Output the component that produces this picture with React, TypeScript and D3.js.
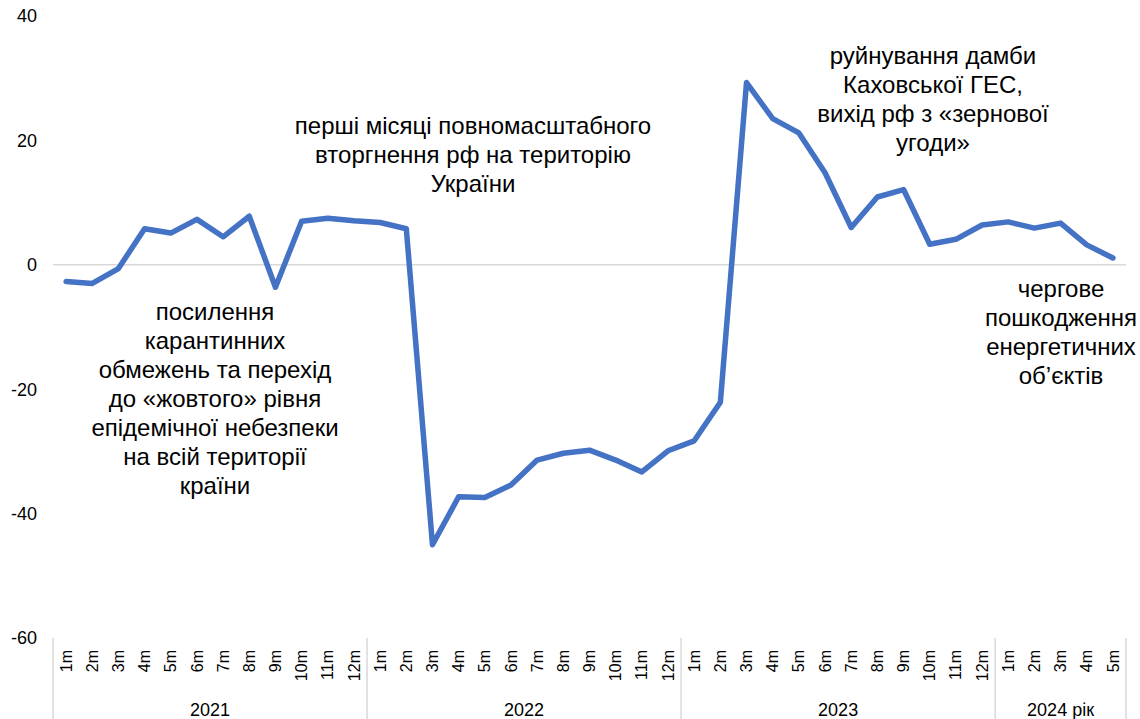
import React from "react";
import * as d3 from "d3";

const years = ["2021", "2022", "2023", "2024 рік"];
const monthsPerYear = [12, 12, 12, 5];
const values2021 = [-2.7, -3.0, -0.6, 5.8, 5.1, 7.3, 4.5, 7.8, -3.6, 7.0, 7.5, 7.1];
const values2022 = [6.8, 5.8, -45.0, -37.3, -37.4, -35.4, -31.4, -30.3, -29.8, -31.4, -33.3, -29.9];
const values2023 = [-28.3, -22.1, 29.3, 23.5, 21.2, 14.8, 6.0, 10.9, 12.1, 3.3, 4.1, 6.4];
const values2024 = [6.9, 5.9, 6.7, 3.2, 1.1];
const yTicks = [-60, -40, -20, 0, 20, 40];

const annotations = [
  { lines: ["посилення", "карантинних", "обмежень та перехід", "до «жовтого» рівня", "епідемічної небезпеки", "на всій території", "країни"], cx: 215, y0: 320 },
  { lines: ["перші місяці повномасштабного", "вторгнення рф на територію", "України"], cx: 473, y0: 134 },
  { lines: ["руйнування дамби", "Каховської ГЕС,", "вихід рф з «зернової", "угоди»"], cx: 933, y0: 64 },
  { lines: ["чергове", "пошкодження", "енергетичних", "об’єктів"], cx: 1061, y0: 297 },
];

const allValues = [...values2021, ...values2022, ...values2023, ...values2024];
const monthLabels = monthsPerYear.flatMap((n) => d3.range(1, n + 1).map((m) => `${m}m`));

const W = 1140;
const H = 719;
const FONT = "'Liberation Sans', Arial, sans-serif";

export default function App() {
  const x = d3.scaleBand<number>().domain(d3.range(allValues.length)).range([53, 1126]);
  const bw = x.bandwidth();
  const cx = (i: number) => (x(i) as number) + bw / 2;
  const y = d3.scaleLinear().domain([-60, 40]).range([638, 16]);

  const line = d3
    .line<number>()
    .x((_, i) => cx(i))
    .y((d) => y(d));

  const starts: number[] = [];
  let acc = 0;
  monthsPerYear.forEach((n) => {
    starts.push(acc);
    acc += n;
  });
  const boundaries = [...starts.map((s) => x(s) as number), x.range()[1]];

  return (
    <svg
      width={W}
      height={H}
      style={{ position: "absolute", left: 0, top: 0, background: "#fff" }}
      fontFamily={FONT}
    >
      <line x1={x.range()[0]} x2={x.range()[1]} y1={y(0)} y2={y(0)} stroke="#d9d9d9" strokeWidth={1.5} />
      {yTicks.map((t) => (
        <text key={t} x={37} y={y(t)} dy="0.35em" textAnchor="end" fontSize={18} fill="#000">
          {t}
        </text>
      ))}
      {boundaries.map((b, i) => (
        <line key={i} x1={b} x2={b} y1={638} y2={H} stroke="#d9d9d9" strokeWidth={1.5} />
      ))}
      {monthLabels.map((m, i) => (
        <text
          key={i}
          transform={`translate(${cx(i)},650) rotate(-90)`}
          dy="0.35em"
          textAnchor="end"
          fontSize={16}
          fill="#000"
        >
          {m}
        </text>
      ))}
      {years.map((yr, i) => (
        <text key={yr} x={(boundaries[i] + boundaries[i + 1]) / 2} y={716} textAnchor="middle" fontSize={18} fill="#000">
          {yr}
        </text>
      ))}
      <path
        d={line(allValues) || ""}
        fill="none"
        stroke="#4472C4"
        strokeWidth={5.5}
        strokeLinejoin="round"
        strokeLinecap="round"
      />
      {annotations.map((a, k) => (
        <text key={k} textAnchor="middle" fontSize={24} fill="#000">
          {a.lines.map((l, j) => (
            <tspan key={j} x={a.cx} y={a.y0 + j * 29}>
              {l}
            </tspan>
          ))}
        </text>
      ))}
    </svg>
  );
}
